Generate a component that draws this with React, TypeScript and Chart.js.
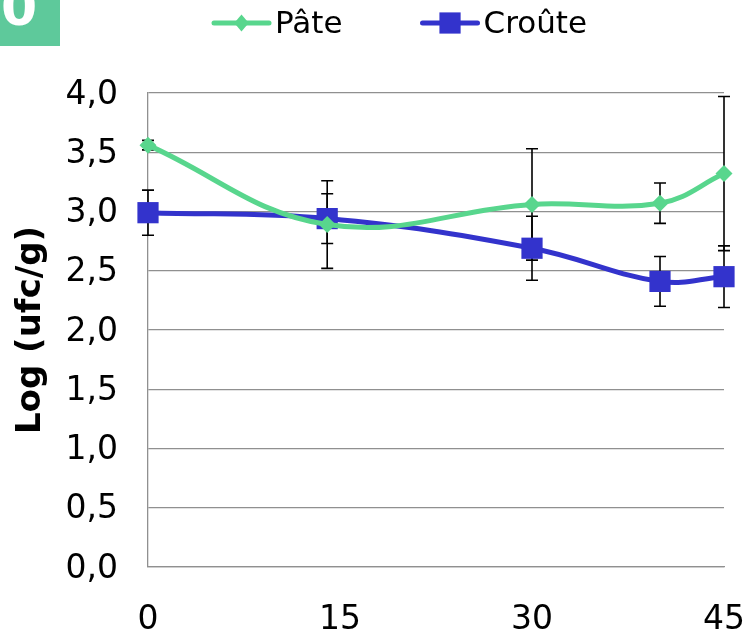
import React, { useEffect, useRef } from "react";
import { Chart, registerables } from "chart.js";

Chart.register(...registerables);

const DAYS = [0, 14, 30, 40, 45];
const PATE = [3.56, 2.89, 3.06, 3.07, 3.32];
const PATE_ERR = [0.04, 0.37, 0.47, 0.17, 0.65];
const CROUTE = [2.99, 2.94, 2.69, 2.41, 2.45];
const CROUTE_ERR = [0.19, 0.21, 0.27, 0.21, 0.26];
const SERIES_LABELS = ["Pâte", "Croûte"];
const Y_TITLE = "Log (ufc/g)";
const X_TICKS = [0, 15, 30, 45];

const GREEN = "#58D68D";
const BLUE = "#3333CC";
const GRID = "#909090";
const FONT = '"DejaVu Sans", Verdana, sans-serif';

const errorBars = {
  id: "errorBars",
  beforeDatasetsDraw(chart: any) {
    const { ctx } = chart;
    const xs = chart.scales.x;
    const ys = chart.scales.y;
    const errs = [PATE_ERR, CROUTE_ERR];
    ctx.save();
    ctx.strokeStyle = "#000";
    ctx.lineWidth = 1.6;
    chart.data.datasets.forEach((ds: any, di: number) => {
      ds.data.forEach((p: any, i: number) => {
        const e = errs[di][i];
        const x = xs.getPixelForValue(p.x);
        const yt = ys.getPixelForValue(p.y + e);
        const yb = ys.getPixelForValue(p.y - e);
        ctx.beginPath();
        ctx.moveTo(x, yt);
        ctx.lineTo(x, yb);
        ctx.moveTo(x - 6, yt);
        ctx.lineTo(x + 6, yt);
        ctx.moveTo(x - 6, yb);
        ctx.lineTo(x + 6, yb);
        ctx.stroke();
      });
    });
    ctx.restore();
  },
};

const customLegend = {
  id: "customLegend",
  afterDraw(chart: any) {
    const { ctx } = chart;
    ctx.save();
    ctx.font = `31px ${FONT}`;
    ctx.textBaseline = "middle";
    let x = 214;
    const y = 23;
    chart.data.datasets.forEach((ds: any) => {
      ctx.strokeStyle = ds.borderColor;
      ctx.lineWidth = 5;
      ctx.lineCap = "round";
      ctx.beginPath();
      ctx.moveTo(x, y);
      ctx.lineTo(x + 55, y);
      ctx.stroke();
      const cx = x + 27.5;
      ctx.fillStyle = ds.borderColor;
      ctx.beginPath();
      if (ds.pointStyle === "rectRot") {
        const r = ds.pointRadius;
        ctx.moveTo(cx - r * 0.85, y);
        ctx.lineTo(cx, y - r);
        ctx.lineTo(cx + r * 0.85, y);
        ctx.lineTo(cx, y + r);
      } else {
        const h = ds.pointRadius * Math.SQRT1_2;
        ctx.rect(cx - h, y - h, 2 * h, 2 * h);
      }
      ctx.closePath();
      ctx.fill();
      ctx.fillStyle = "#000";
      ctx.fillText(ds.label, x + 61, y + 2);
      const w = ctx.measureText(ds.label).width;
      x += 61 + w + 80;
    });
    ctx.restore();
  },
};

export default function App() {
  const ref = useRef<HTMLCanvasElement>(null);
  useEffect(() => {
    if (!ref.current) return;
    const chart = new Chart(ref.current, {
      type: "line",
      data: {
        datasets: [
          {
            label: SERIES_LABELS[0],
            data: DAYS.map((d, i) => ({ x: d, y: PATE[i] })),
            borderColor: GREEN,
            backgroundColor: GREEN,
            borderWidth: 5,
            pointStyle: "rectRot",
            pointRadius: 8.5,
            pointBorderWidth: 0,
            tension: 0.4,
            clip: false,
          },
          {
            label: SERIES_LABELS[1],
            data: DAYS.map((d, i) => ({ x: d, y: CROUTE[i] })),
            borderColor: BLUE,
            backgroundColor: BLUE,
            borderWidth: 5,
            pointStyle: "rect",
            pointRadius: 15,
            pointBorderWidth: 0,
            tension: 0.4,
            clip: false,
          },
        ] as any,
      },
      options: {
        responsive: false,
        animation: false,
        layout: { padding: { top: 93, right: 20, left: 0, bottom: 0 } },
        plugins: {
          legend: { display: false },
          tooltip: { enabled: false },
        },
        scales: {
          x: {
            type: "linear",
            min: 0,
            max: 45,
            afterBuildTicks: (s: any) => {
              s.ticks = X_TICKS.map((v) => ({ value: v }));
            },
            afterFit: (s: any) => {
              s.height = 70;
            },
            grid: { display: false, drawTicks: true, tickLength: 34 },
            border: { display: true, color: GRID, width: 1.3 },
            ticks: {
              color: "#000",
              font: { family: FONT, size: 33 },
              padding: 0,
              maxRotation: 0,
            },
          },
          y: {
            min: 0,
            max: 4,
            afterFit: (s: any) => {
              s.width = 148;
            },
            grid: { color: GRID, lineWidth: 1.3, drawTicks: false },
            border: { display: true, color: GRID, width: 1.3 },
            ticks: {
              stepSize: 0.5,
              color: "#000",
              font: { family: FONT, size: 33 },
              padding: 30,
              labelOffset: 2,
              callback: (v: any) => Number(v).toFixed(1).replace(".", ","),
            },
            title: {
              display: true,
              text: Y_TITLE,
              color: "#000",
              font: { family: FONT, size: 34, weight: "bold" },
              padding: { top: 11, bottom: 0 },
            },
          },
        },
      },
      plugins: [errorBars, customLegend],
    });
    return () => chart.destroy();
  }, []);

  return (
    <div style={{ position: "absolute", left: 0, top: 0, width: 745, height: 637, background: "#fff" }}>
      <canvas ref={ref} width={745} height={637} style={{ display: "block" }} />
      <div
        style={{
          position: "absolute",
          left: 0,
          top: 0,
          width: 60,
          height: 46,
          background: "#5EC99B",
          overflow: "hidden",
        }}
      >
        <span
          style={{
            position: "absolute",
            left: 1,
            top: -19,
            fontFamily: FONT,
            fontWeight: "bold",
            fontSize: 52,
            lineHeight: "52px",
            color: "#fff",
          }}
        >
          0
        </span>
      </div>
    </div>
  );
}
